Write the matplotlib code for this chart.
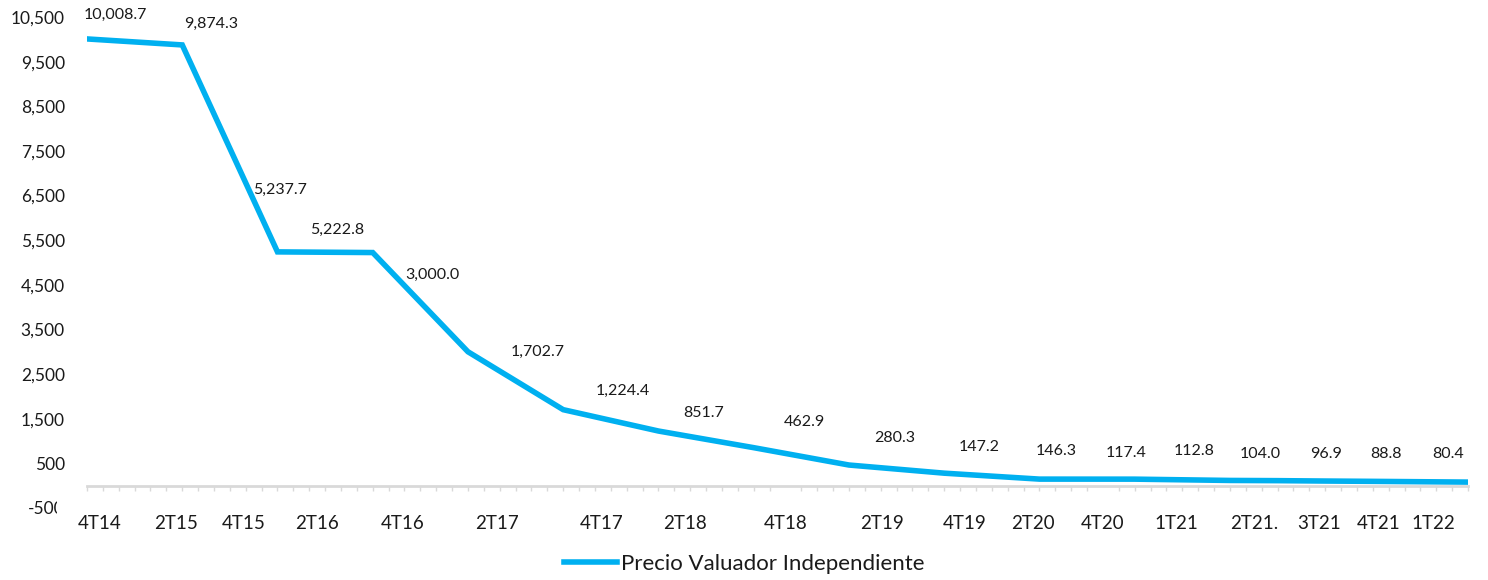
import matplotlib.pyplot as plt
import matplotlib.transforms as mtransforms
import pandas as pd

# trimestres (fin de trimestre) y precio del valuador independiente
periodos = ['2014-12', '2015-06', '2015-12', '2016-06', '2016-12', '2017-06',
            '2017-12', '2018-06', '2018-12', '2019-06', '2019-12', '2020-06',
            '2020-12', '2021-03', '2021-06', '2021-09', '2021-12', '2022-03']
precio = [10008.7, 9874.3, 5237.7, 5222.8, 3000.0, 1702.7, 1224.4, 851.7, 462.9,
          280.3, 147.2, 146.3, 117.4, 112.8, 104.0, 96.9, 88.8, 80.4]
etiquetas = ['4T14', '2T15', '4T15', '2T16', '4T16', '2T17', '4T17', '2T18', '4T18',
             '2T19', '4T19', '2T20', '4T20', '1T21', '2T21.', '3T21', '4T21', '1T22']

# posiciones (en meses) de las etiquetas del eje x, tal como aparecen en el original
pos_etiquetas = [0.8, 5.6, 9.9, 14.5, 19.9, 25.8, 32.4, 37.7, 44.0, 50.1, 55.3,
                 59.6, 64.0, 68.6, 73.5, 77.6, 81.4, 84.8]
# desplazamiento de las etiquetas de datos (pixeles)
desp = [(28, 24), (29, 21), (3, 62), (-36, 23), (-36, 77), (-26, 58), (-36, 40),
        (-50, 35), (-45, 43), (-49, 35), (-60, 32), (-78, 28), (-104, 27),
        (-83, 30), (-65, 27), (-47, 27), (-34, 28), (-20, 28)]

inicio = pd.Period(periodos[0], freq='M')
meses = [(pd.Period(p, freq='M') - inicio).n for p in periodos]

plt.rcParams['font.family'] = ['Lato', 'DejaVu Sans']
negro = '#1a1a1a'
azul = '#00B0F0'
gris = '#d9d9d9'

fig = plt.figure(figsize=(14.88, 5.8), dpi=100)
ax = fig.add_axes([87 / 1488, 72 / 580, 1381 / 1488, 491 / 580])

ax.plot(meses, precio, color=azul, lw=4, solid_joinstyle='miter',
        label='Precio Valuador Independiente')

for m, v, (dx, dy) in zip(meses, precio, desp):
    ax.annotate(f'{v:,.1f}', (m, v), xytext=(dx * 0.72, dy * 0.72),
                textcoords='offset points', ha='center', va='center',
                fontsize=11.5, color=negro)

ax.set_xlim(0, meses[-1])
ax.set_ylim(-500, 10500)
ax.set_yticks(range(-500, 11000, 1000))
ax.set_yticklabels([f'{t:,}' for t in range(-500, 11000, 1000)])

for s in ['top', 'right', 'left']:
    ax.spines[s].set_visible(False)
ax.spines['bottom'].set_position(('data', 0))
ax.spines['bottom'].set_color(gris)
ax.spines['bottom'].set_linewidth(2)

ax.set_xticks(pos_etiquetas)
ax.set_xticklabels(etiquetas)
ax.set_xticks(range(0, meses[-1] + 1), minor=True)
ax.tick_params(axis='x', which='major', length=0, pad=21, labelsize=13.5, labelcolor=negro)
ax.tick_params(axis='x', which='minor', length=3.5, width=1, color=gris)
ax.tick_params(axis='y', length=0, pad=16, labelsize=12.5, labelcolor=negro)

# el -500 aparece recortado en el original
recorte = mtransforms.TransformedBbox(mtransforms.Bbox([[0, 0], [57 / 1488, 1]]), fig.transFigure)
for tick in ax.yaxis.get_major_ticks():
    if tick.get_loc() == -500:
        tick.label1.set_clip_box(recorte)
        tick.label1.set_clip_on(True)

fig.legend(loc='center', bbox_to_anchor=(0.5, 16 / 580), frameon=False,
           fontsize=16, handlelength=2.4, handletextpad=0.15, labelcolor=negro)

fig.savefig('out.png', dpi=100)
